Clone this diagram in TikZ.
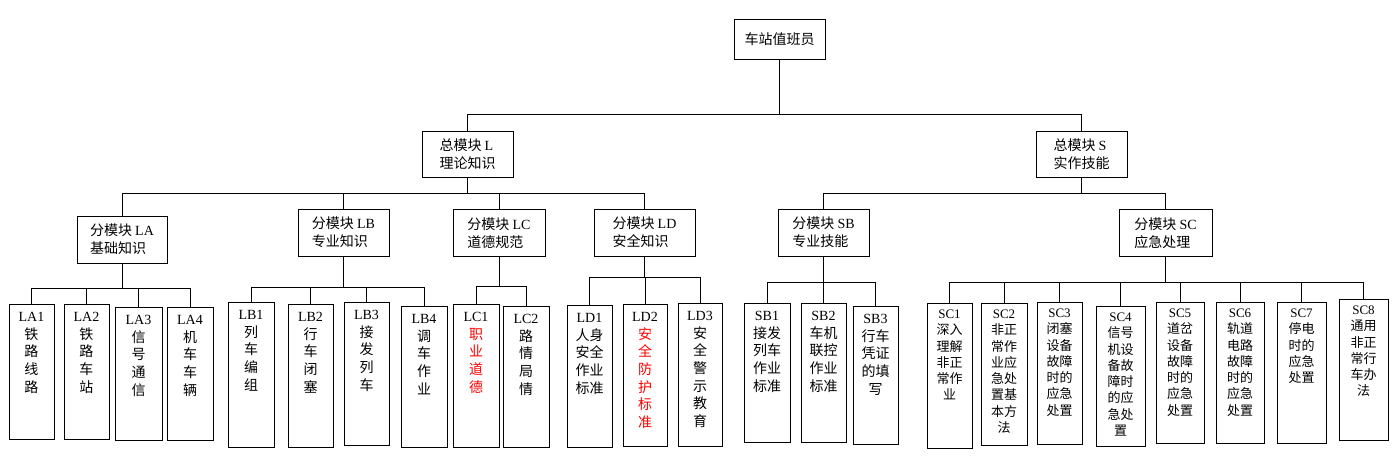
\documentclass[tikz,border=0pt]{standalone}
\usepackage{fontspec}
\setmainfont{Liberation Serif}
\newfontfamily\cjk{Noto Sans CJK SC}
\usepackage{tikz}
\definecolor{figred}{HTML}{FF0000}
\newcommand{\en}[1]{{\rmfamily #1}}
\tikzset{
  rootbox/.style={draw=black, line width=0.9pt, fill=white, align=center, inner sep=2pt,
    font=\cjk\fontsize{14}{18}\selectfont},
  modbox/.style={draw=black, line width=0.9pt, fill=white, align=left, inner sep=2pt,
    minimum width=91pt, minimum height=46pt, font=\cjk\fontsize{14}{18}\selectfont},
  subbox/.style={modbox, minimum height=47pt},
  leafbox/.style={draw=black, line width=0.9pt, fill=white, anchor=north, text width=40pt,
    align=center, inner xsep=2pt, inner ysep=7pt, text height=10pt,
    font=\cjk\fontsize{14}{17.7}\selectfont},
  scbox/.style={leafbox, inner ysep=5pt, font=\cjk\fontsize{13}{16.3}\selectfont},
  figline/.style={draw=black, line width=0.9pt},
}
\begin{document}
\begin{tikzpicture}[x=1pt, y=-1pt]
  \useasboundingbox (0,0) rectangle (1400,460);
  \node[rootbox, minimum width=91pt, minimum height=40pt] (root) at (779.5,39) {车站值班员};
  \node[modbox] (ml) at (467.5,154) {总模块 \en{L}\\理论知识};
  \node[modbox] (ms) at (1081.5,154) {总模块 \en{S}\\实作技能};
  \node[subbox, minimum width=90pt] (la) at (122,239.5) {分模块 \en{LA}\\基础知识};
  \node[subbox] (lb) at (343.5,232.5) {分模块 \en{LB}\\专业知识};
  \node[subbox, minimum width=92pt] (lc) at (499,233) {分模块 \en{LC}\\道德规范};
  \node[subbox, minimum width=101pt] (ld) at (644.5,232.5) {分模块 \en{LD}\\安全知识};
  \node[subbox] (sb) at (823.5,232.5) {分模块 \en{SB}\\专业技能};
  \node[subbox, minimum width=93pt] (sc) at (1165.5,233) {分模块 \en{SC}\\应急处理};
  \node[leafbox, minimum width=45pt, text depth=111pt] (la1) at (31.5,304) {\en{LA1}\\铁\\路\\线\\路};
  \node[leafbox, minimum width=45pt, text depth=111pt] (la2) at (86.5,304) {\en{LA2}\\铁\\路\\车\\站};
  \node[leafbox, minimum width=47pt, text depth=109pt] (la3) at (138.5,307) {\en{LA3}\\信\\号\\通\\信};
  \node[leafbox, minimum width=46pt, text depth=109pt] (la4) at (190,307) {\en{LA4}\\机\\车\\车\\辆};
  \node[leafbox, minimum width=46pt, text depth=121pt] (lb1) at (251,302) {\en{LB1}\\列\\车\\编\\组};
  \node[leafbox, minimum width=45pt, text depth=119pt] (lb2) at (310.5,304) {\en{LB2}\\行\\车\\闭\\塞};
  \node[leafbox, minimum width=45pt, text depth=119pt] (lb3) at (366.5,302) {\en{LB3}\\接\\发\\列\\车};
  \node[leafbox, minimum width=46pt, text depth=117pt] (lb4) at (424,306) {\en{LB4}\\调\\车\\作\\业};
  \node[leafbox, minimum width=46pt, text depth=119pt] (lc1) at (476,304) {\en{LC1}\\{\color{figred}职\\业\\道\\德}};
  \node[leafbox, minimum width=46pt, text depth=117pt] (lc2) at (526,306) {\en{LC2}\\路\\情\\局\\情};
  \node[leafbox, minimum width=45pt, text depth=118pt] (ld1) at (589.5,305) {\en{LD1}\\人身\\安全\\作业\\标准};
  \node[leafbox, minimum width=44pt, text depth=118pt] (ld2) at (645,304) {\en{LD2}\\{\color{figred}安\\全\\防\\护\\标\\准}};
  \node[leafbox, minimum width=44pt, text depth=119pt] (ld3) at (700,303) {\en{LD3}\\安\\全\\警\\示\\教\\育};
  \node[leafbox, minimum width=46pt, text depth=115pt] (sb1) at (767,303) {\en{SB1}\\接发\\列车\\作业\\标准};
  \node[leafbox, minimum width=45pt, text depth=115pt] (sb2) at (823.5,303) {\en{SB2}\\车机\\联控\\作业\\标准};
  \node[leafbox, minimum width=45pt, text depth=114pt] (sb3) at (875.5,306) {\en{SB3}\\行车\\凭证\\的填\\写};
  \node[scbox, minimum width=45pt, text depth=125pt] (sc1) at (949.5,303) {\en{SC1}\\深入\\理解\\非正\\常作\\业};
  \node[scbox, minimum width=46pt, text depth=122pt] (sc2) at (1004,303) {\en{SC2}\\非正\\常作\\业应\\急处\\置基\\本方\\法};
  \node[scbox, minimum width=45pt, text depth=122pt] (sc3) at (1059.5,302) {\en{SC3}\\闭塞\\设备\\故障\\时的\\应急\\处置};
  \node[scbox, minimum width=49pt, text depth=120pt] (sc4) at (1120.5,306) {\en{SC4}\\信号\\机设\\备故\\障时\\的应\\急处\\置};
  \node[scbox, minimum width=48pt, text depth=121pt] (sc5) at (1180,302) {\en{SC5}\\道岔\\设备\\故障\\时的\\应急\\处置};
  \node[scbox, minimum width=48pt, text depth=121pt] (sc6) at (1240,302) {\en{SC6}\\轨道\\电路\\故障\\时的\\应急\\处置};
  \node[scbox, minimum width=49pt, text depth=121pt] (sc7) at (1301.5,302) {\en{SC7}\\停电\\时的\\应急\\处置};
  \node[scbox, minimum width=49pt, text depth=121pt] (sc8) at (1363.5,299) {\en{SC8}\\通用\\非正\\常行\\车办\\法};
  \foreach \m in {ml,ms} \draw[figline] (root.south) -- ++(0,55) -| (\m.north);
  \foreach \s in {la,lb,lc,ld} \draw[figline] (ml.south) -- ++(0,16) -| (\s.north);
  \foreach \s in {sb,sc} \draw[figline] (ms.south) -- ++(0,16) -| (\s.north);
  \foreach \c in {la1,la2,la3,la4} \draw[figline] (la.south) -- ++(0,25) -| (\c.north);
  \foreach \c in {lb1,lb2,lb3,lb4} \draw[figline] (lb.south) -- ++(0,31) -| (\c.north);
  \foreach \c in {lc1,lc2} \draw[figline] (lc.south) -- ++(0,29) -| (\c.north);
  \foreach \c in {ld1,ld2,ld3} \draw[figline] (ld.south) -- ++(0,21) -| (\c.north);
  \foreach \c in {sb1,sb2,sb3} \draw[figline] (sb.south) -- ++(0,26) -| (\c.north);
  \foreach \c in {sc1,sc2,sc3,sc4,sc5,sc6,sc7,sc8} \draw[figline] (sc.south) -- ++(0,25) -| (\c.north);
\end{tikzpicture}
\end{document}
